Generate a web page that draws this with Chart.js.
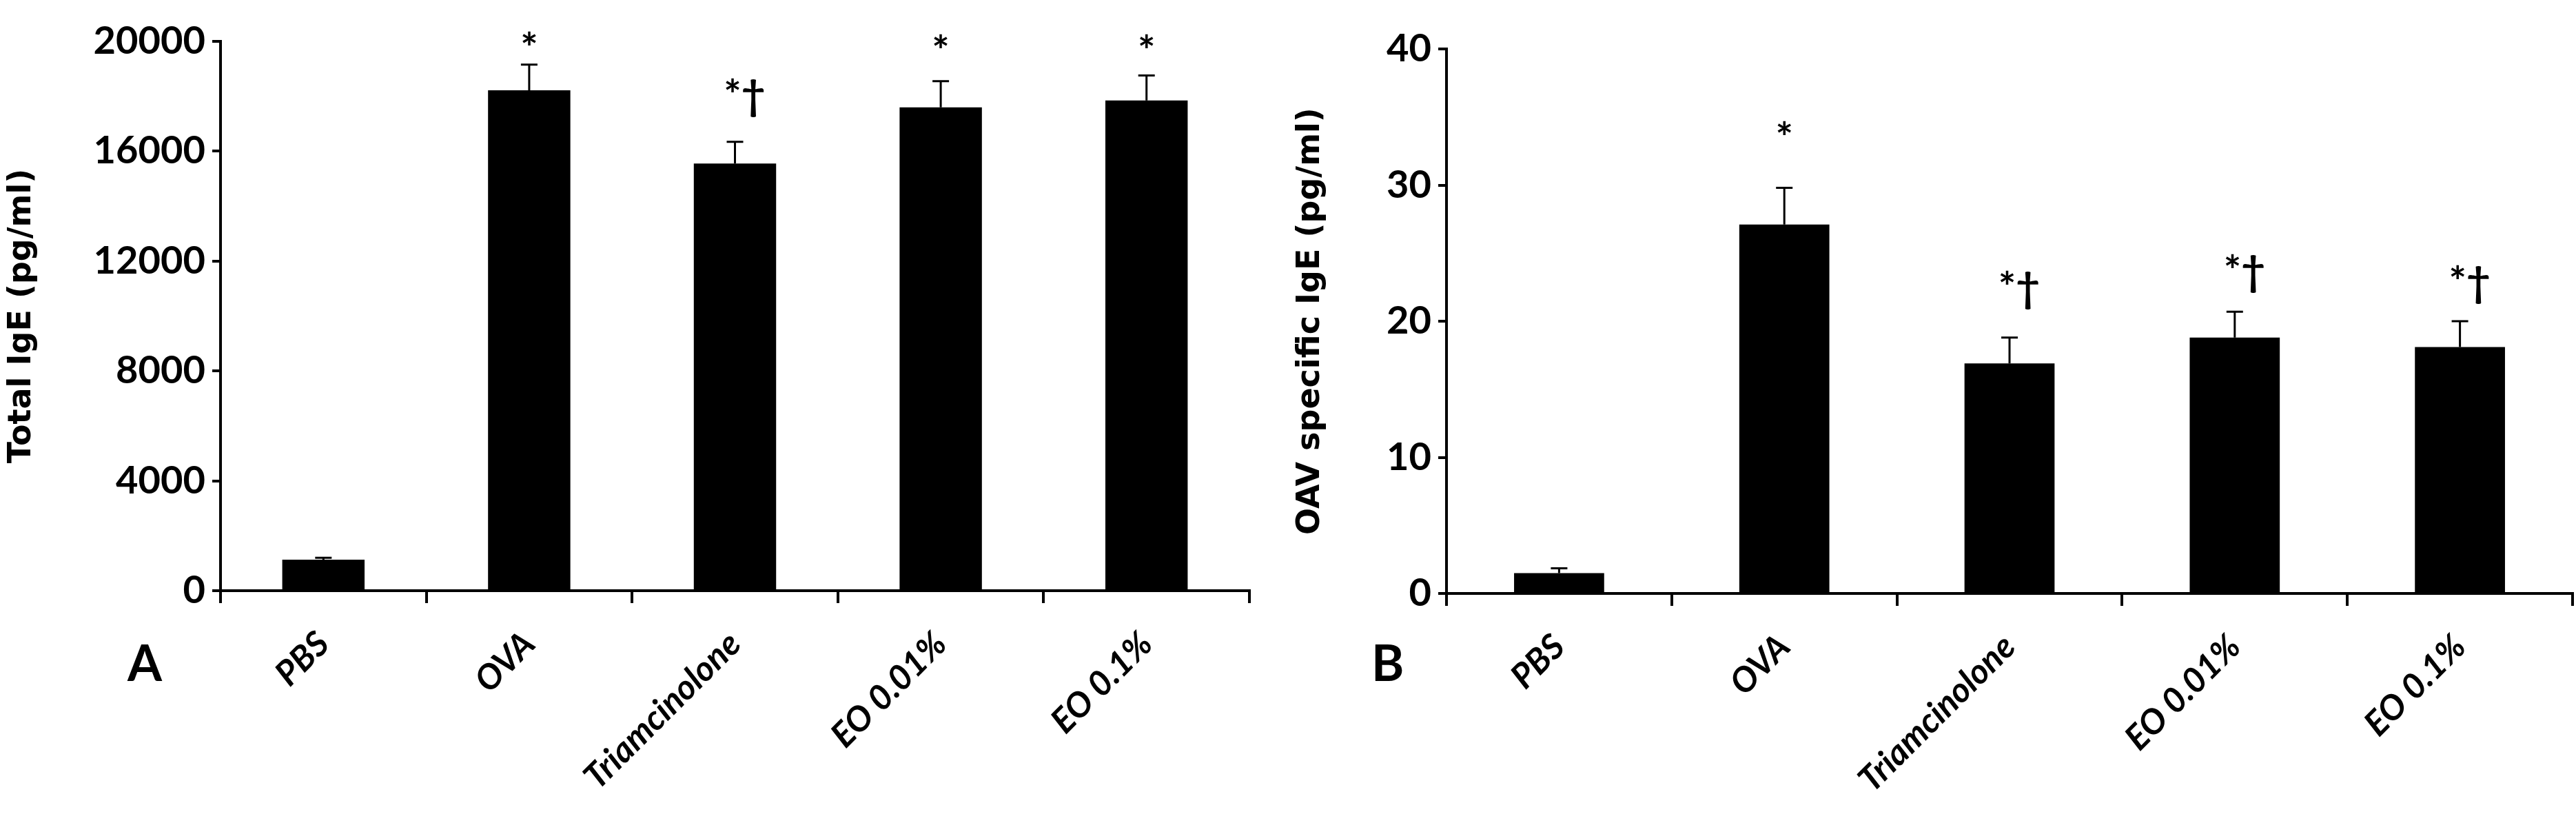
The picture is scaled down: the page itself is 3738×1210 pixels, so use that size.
<!DOCTYPE html>
<html>
<head>
<meta charset="utf-8">
<script src="https://cdn.jsdelivr.net/npm/chart.js@4"></script>
<style>
body{margin:0;background:#fff;width:3738px;height:1210px;overflow:hidden;position:relative}
.p{position:absolute;top:0;height:1210px}
</style>
</head>
<body>
<div class="p" style="left:0;width:1870px"><canvas id="a"></canvas></div>
<div class="p" style="left:1870px;width:1868px"><canvas id="b"></canvas></div>
<script>
const groups = ["PBS", "OVA", "Triamcinolone", "EO 0.01%", "EO 0.1%"];
const totalIgE = [1130, 18220, 15550, 17600, 17850];
const totalErr = [70, 930, 790, 950, 910];
const totalMarks = ["", "*", "*\u2020", "*", "*"];
const totalMarkY = [0, 19700, 18000, 19600, 19600];
const ovaIgE = [1.5, 27.1, 16.9, 18.8, 18.1];
const ovaErr = [0.35, 2.7, 1.9, 1.9, 1.9];
const ovaMarks = ["", "*", "*\u2020", "*\u2020", "*\u2020"];
const ovaMarkY = [0, 33.4, 22.4, 23.6, 22.8];

const F = "Lato, 'Open Sans', sans-serif";

const extras = {
  id: "extras",
  afterDatasetsDraw(chart, args, o) {
    const c = chart.ctx, x = chart.scales.x, y = chart.scales.y;
    c.save();
    c.strokeStyle = "#000"; c.lineWidth = 3;
    o.vals.forEach((v, i) => {
      const px = x.getPixelForValue(i);
      const top = y.getPixelForValue(v + o.err[i]);
      const base = y.getPixelForValue(v);
      c.beginPath(); c.moveTo(px, base); c.lineTo(px, top);
      c.moveTo(px - 12, top); c.lineTo(px + 12, top); c.stroke();
      if (o.marks[i]) {
        c.fillStyle = "#000"; c.font = "bold 60px " + F;
        c.textAlign = "center"; c.textBaseline = "middle";
        c.fillText(o.marks[i], px + (o.marks[i].length > 1 ? 14 : 0), y.getPixelForValue(o.markY[i]));
      }
    });
    c.font = "bold 72px " + F; c.fillStyle = "#000"; c.textAlign = "left"; c.textBaseline = "middle";
    c.fillText(o.letter, o.lx, 965);
    c.restore();
  }
};

function make(id, vals, err, marks, markY, max, step, title, yw, right, top, bottom, letter, lx) {
  new Chart(document.getElementById(id), {
    type: "bar",
    data: { labels: groups, datasets: [{ data: vals, backgroundColor: "#000", barPercentage: 0.8, categoryPercentage: 0.5 }] },
    options: {
      responsive: true, maintainAspectRatio: false, animation: false,
      layout: { padding: { top: top, right: right, left: 0, bottom: 0 } },
      plugins: { legend: { display: false }, tooltip: { enabled: false },
        extras: { vals: vals, err: err, marks: marks, markY: markY, letter: letter, lx: lx } },
      scales: {
        x: {
          afterFit(s) { s.height = 1210 - bottom; },
          border: { color: "#000", width: 4 },
          grid: { display: true, drawOnChartArea: false, offset: true, color: "#000", lineWidth: 4, tickLength: 18 },
          ticks: { color: "#000", minRotation: 45, maxRotation: 45, padding: 30,
            font: { family: F, size: 50, weight: "bold", style: "italic" } }
        },
        y: {
          min: 0, max: max,
          afterFit(s) { s.width = yw; },
          border: { color: "#000", width: 4 },
          grid: { display: true, drawOnChartArea: false, color: "#000", lineWidth: 4, tickLength: 12 },
          ticks: { stepSize: step, color: "#000", padding: 10, callback: v => String(v),
            font: { family: F, size: 56, weight: "bold" } },
          title: { display: true, text: title, color: "#000", padding: 4,
            font: { family: "'DejaVu Sans', sans-serif", size: 46, weight: "bold" } }
        }
      }
    },
    plugins: [extras]
  });
}

make("a", totalIgE, totalErr, totalMarks, totalMarkY, 20000, 4000, "Total IgE (pg/ml)", 320, 57, 60, 857, "A", 185);
make("b", ovaIgE, ovaErr, ovaMarks, ovaMarkY, 40, 10, "OAV specific IgE (pg/ml)", 229, 5, 71, 861, "B", 120);
</script>
</body>
</html>
